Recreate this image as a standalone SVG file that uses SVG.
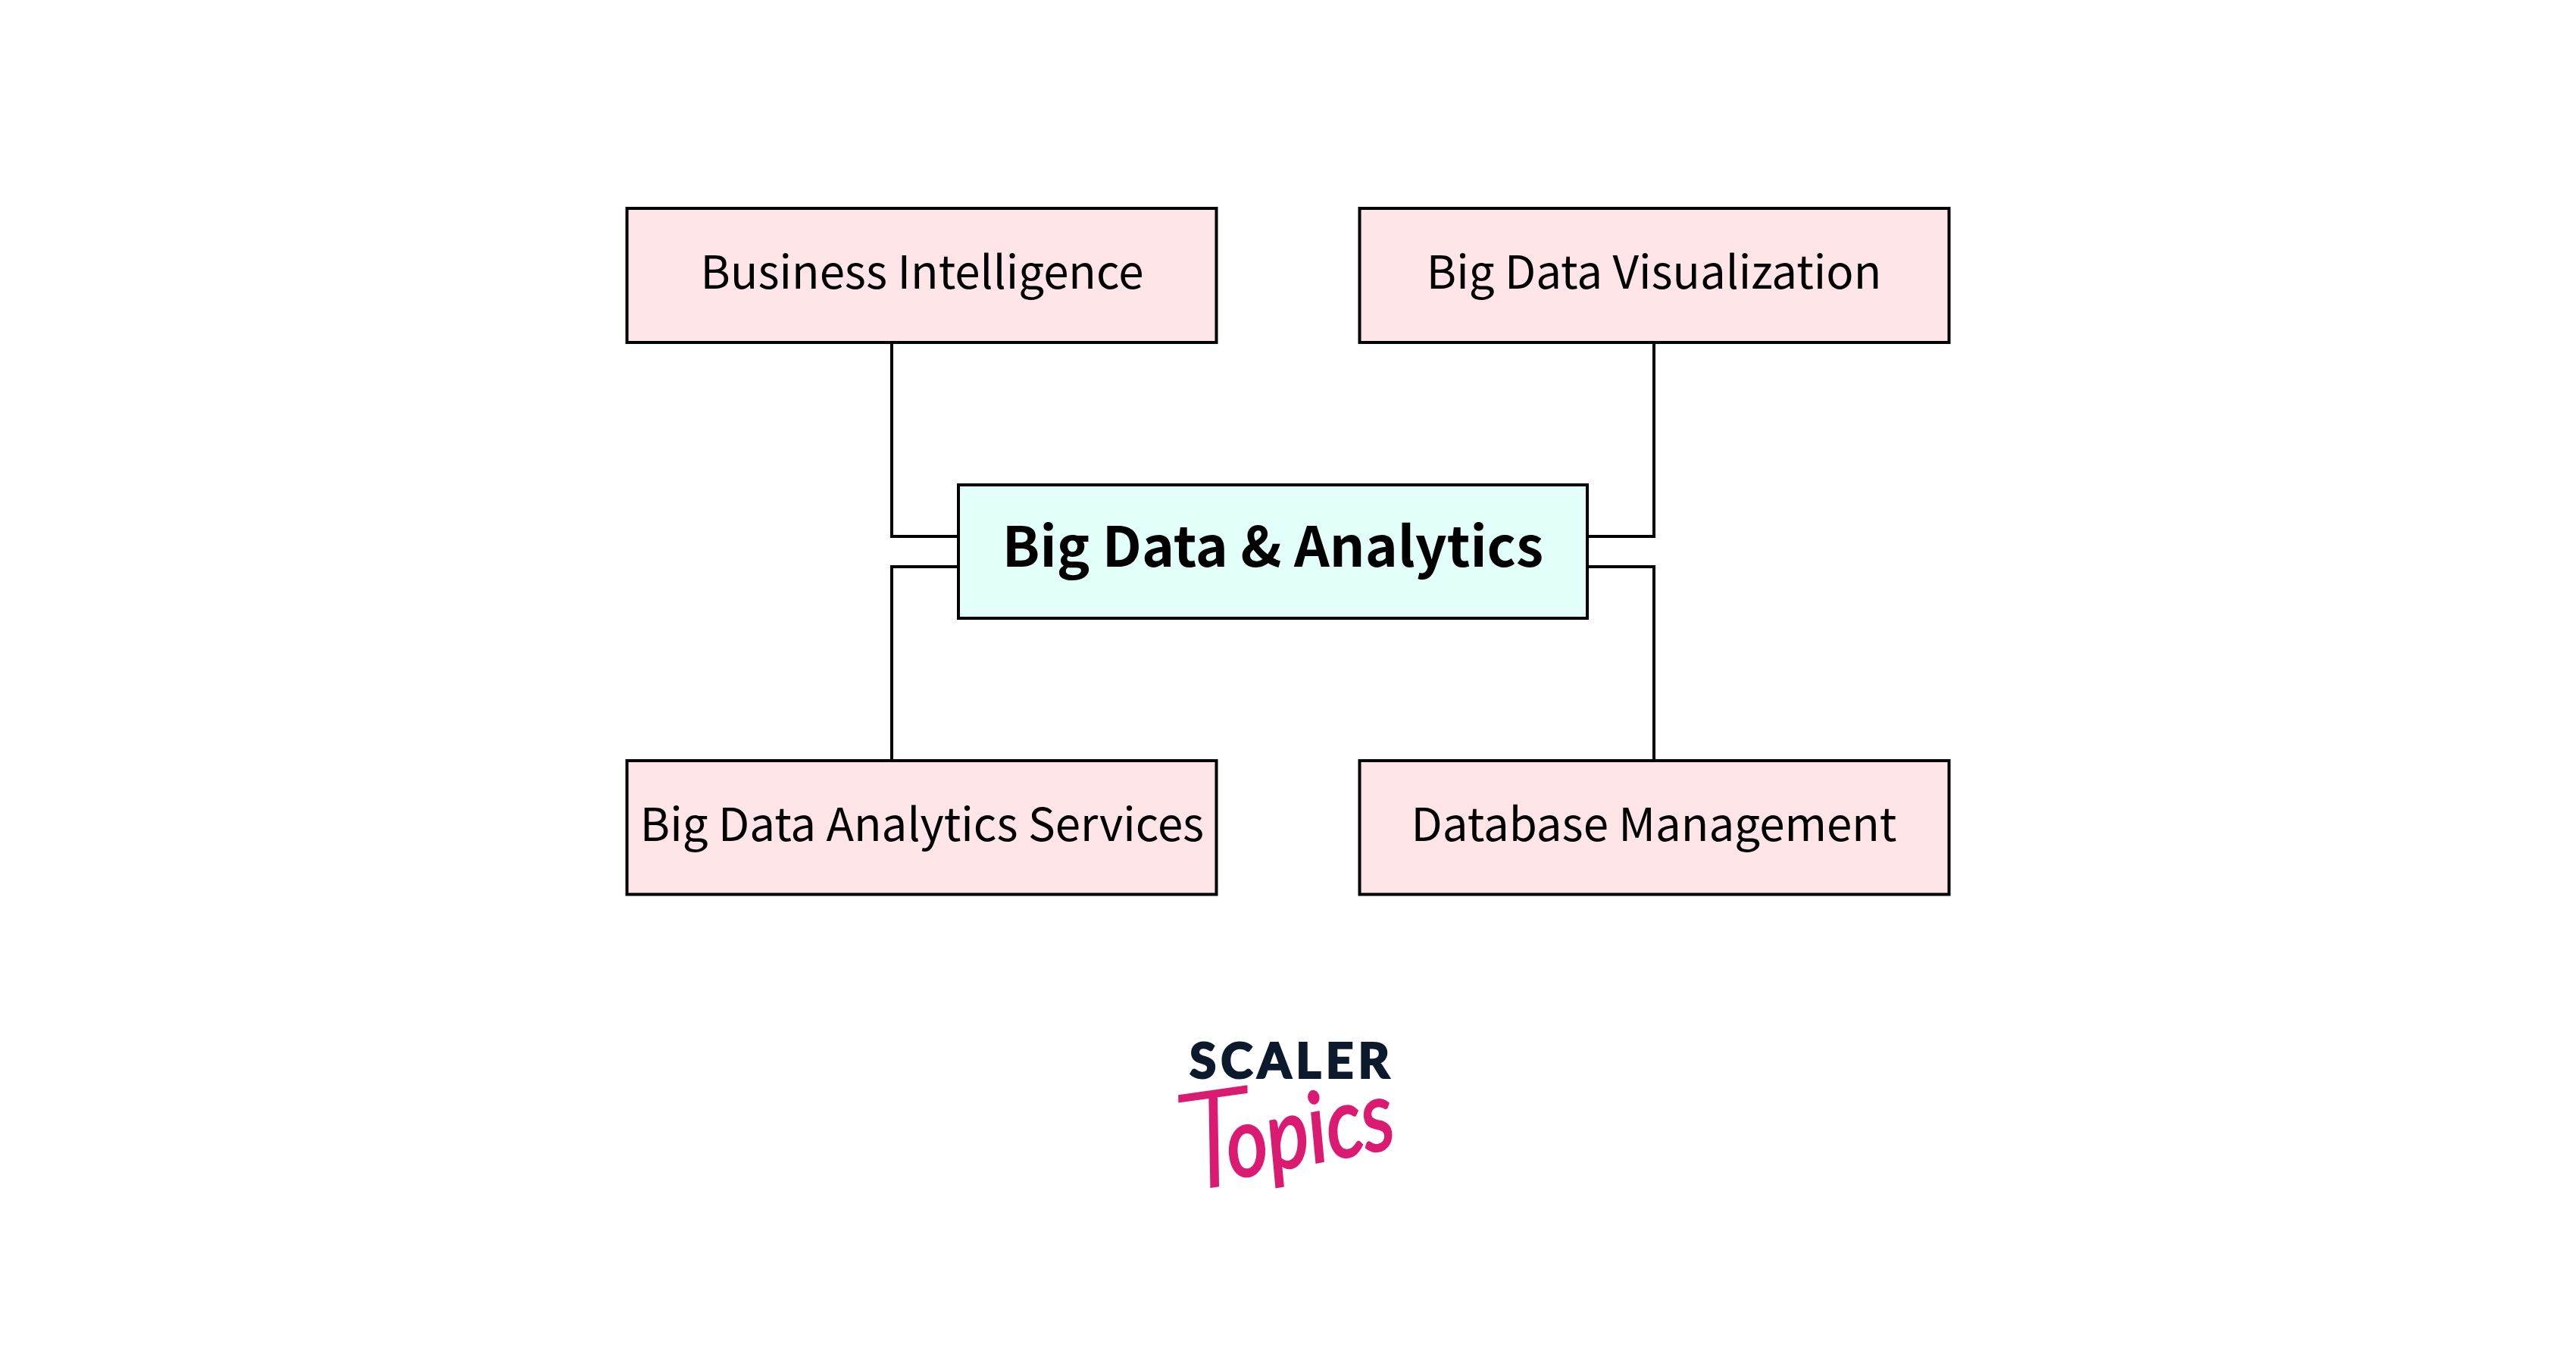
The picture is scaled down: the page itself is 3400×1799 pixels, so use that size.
<svg xmlns="http://www.w3.org/2000/svg" width="3400" height="1799" viewBox="0 0 3400 1799">
<style>
.box{stroke:#000;stroke-width:4}
.leaf{fill:#FFE4E8}
.hub{fill:#E3FFFA}
.conn{fill:none;stroke:#000;stroke-width:4}
.lbl{font-family:"Noto Sans CJK SC","Noto Sans CJK JP","Noto Sans",sans-serif;font-size:60px;text-anchor:middle;fill:#000}
.hubl{font-size:73px;font-weight:700}
.topics{font-family:Lato,sans-serif;font-style:italic;fill:#DB1A72;stroke:#DB1A72;stroke-width:3}
</style>
<rect width="3400" height="1799" fill="#fff"/>
<g id="connectors">
<path class="conn" d="M1177 452V708H1265"/>
<path class="conn" d="M2183 452V708H2095"/>
<path class="conn" d="M1177 1004V748H1265"/>
<path class="conn" d="M2183 1004V748H2095"/>
</g>
<g id="node-bi"><rect class="box leaf" x="827.5" y="275" width="778" height="177"/><text class="lbl" x="1217" y="381">Business Intelligence</text></g>
<g id="node-viz"><rect class="box leaf" x="1794.5" y="275" width="778" height="177"/><text class="lbl" x="2183" y="381">Big Data Visualization</text></g>
<g id="node-hub"><rect class="box hub" x="1265" y="640" width="830" height="176"/><text class="lbl hubl" x="1680" y="748">Big Data &amp; Analytics</text></g>
<g id="node-services"><rect class="box leaf" x="827.5" y="1004" width="778" height="176.500"/><text class="lbl" x="1217" y="1110">Big Data Analytics Services</text></g>
<g id="node-db"><rect class="box leaf" x="1794.500" y="1004" width="778" height="176.500"/><text class="lbl" x="2183" y="1110">Database Management</text></g>
<g id="logo">
<text x="1570" y="1423" font-family="Lato,sans-serif" font-weight="900" font-size="64" fill="#0D1A2D" stroke="#0D1A2D" stroke-width="2" textLength="264" lengthAdjust="spacing">SCALER</text>
<text class="topics" x="1563" y="1566" font-size="176" font-weight="300" transform="rotate(-8 1600 1566)">T</text>
<text class="topics" x="1626" y="1556" font-size="128" textLength="224" lengthAdjust="spacingAndGlyphs" transform="rotate(-11 1626 1556)">opics</text>
</g>
</svg>
